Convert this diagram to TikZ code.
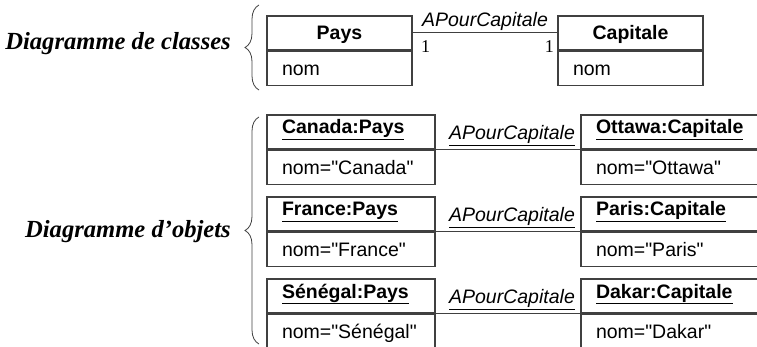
\documentclass[tikz,border=0pt]{standalone}
\usepackage{fontspec}
\setmainfont{Liberation Serif}
\setsansfont{Liberation Sans}[Ligatures=TeXOff]
\usetikzlibrary{decorations.pathreplacing}

\definecolor{lc}{gray}{0.25}

\begin{document}
\begin{tikzpicture}[x=1pt,y=-1pt,
  % one compartment of a UML box
  comp/.style={draw=lc, line width=1.1pt, inner xsep=15pt, inner ysep=0pt,
    minimum height=34pt, text width=#1, align=left,
    font=\sffamily\fontsize{19.5}{20}\selectfont,
    text height=14pt, text depth=0pt},
  chead/.style={comp=#1, align=center},
  ohead/.style={comp=#1, text height=6pt, text depth=2pt},
  link/.style={draw=lc, line width=1pt},
  rolelbl/.style={font=\sffamily\itshape\fontsize{19.5}{20}\selectfont, inner sep=0pt, anchor=base},
  mult/.style={font=\fontsize{18}{20}\selectfont, inner sep=0pt, anchor=base},
  biglbl/.style={font=\bfseries\itshape\fontsize{24.6}{28}\selectfont, inner sep=0pt, anchor=base east},
  bracestyle/.style={draw=lc, line width=0.8pt, decorate,
    decoration={brace, amplitude=14pt}}
]
\useasboundingbox (0,0) rectangle (757,347);
\clip (0,0) rectangle (757,347);

% ---- class diagram ----
\node[biglbl] (lblClasses) at (231,50) {Diagramme de classes};
\draw[bracestyle] (259,90) -- (259,5);

\node[chead=115pt] (paysH) at (339.5,33) {\textbf{Pays}};
\node[comp=115pt, anchor=north] (paysA) at (paysH.south) {nom};
\node[chead=115pt] (capH) at (630.5,33) {\textbf{Capitale}};
\node[comp=115pt, anchor=north] (capA) at (capH.south) {nom};

\draw[link] (paysH.east) -- node[rolelbl, yshift=6pt] (assocC) {APourCapitale} (capH.west);
\node[mult] (m1) at ([xshift=13pt,yshift=-20pt]paysH.east) {1};
\node[mult] (m2) at ([xshift=-8pt,yshift=-20pt]capH.west) {1};

% ---- object diagram ----
\node[biglbl] (lblObjets) at (231,237) {Diagramme d’objets};
\draw[bracestyle] (259,344) -- (259,117);

% Canada / Ottawa
\node[ohead=138pt] (canH) at (351,132) {\textbf{\underline{Canada:Pays}}};
\node[comp=138pt, anchor=north] (canA) at (canH.south) {nom="Canada"};
\node[ohead=179pt] (ottH) at (685.5,132) {\textbf{\underline{Ottawa:Capitale}}};
\node[comp=179pt, anchor=north] (ottA) at (ottH.south) {nom="Ottawa"};
\draw[link] (canA.north east) -- node[rolelbl, xshift=4pt, yshift=10pt] (l1) {\underline{APourCapitale}} (ottA.north west);

% France / Paris
\node[ohead=138pt] (fraH) at (351,214) {\textbf{\underline{France:Pays}}};
\node[comp=138pt, anchor=north] (fraA) at (fraH.south) {nom="France"};
\node[ohead=179pt] (parH) at (685.5,214) {\textbf{\underline{Paris:Capitale}}};
\node[comp=179pt, anchor=north] (parA) at (parH.south) {nom="Paris"};
\draw[link] (fraA.north east) -- node[rolelbl, xshift=4pt, yshift=10pt] (l2) {\underline{APourCapitale}} (parA.north west);

% Sénégal / Dakar
\node[ohead=138pt] (senH) at (351,296) {\textbf{\underline{Sénégal:Pays}}};
\node[comp=138pt, anchor=north] (senA) at (senH.south) {nom="Sénégal"};
\node[ohead=179pt] (dakH) at (685.5,296) {\textbf{\underline{Dakar:Capitale}}};
\node[comp=179pt, anchor=north] (dakA) at (dakH.south) {nom="Dakar"};
\draw[link] (senA.north east) -- node[rolelbl, xshift=4pt, yshift=10pt] (l3) {\underline{APourCapitale}} (dakA.north west);
\end{tikzpicture}
\end{document}
